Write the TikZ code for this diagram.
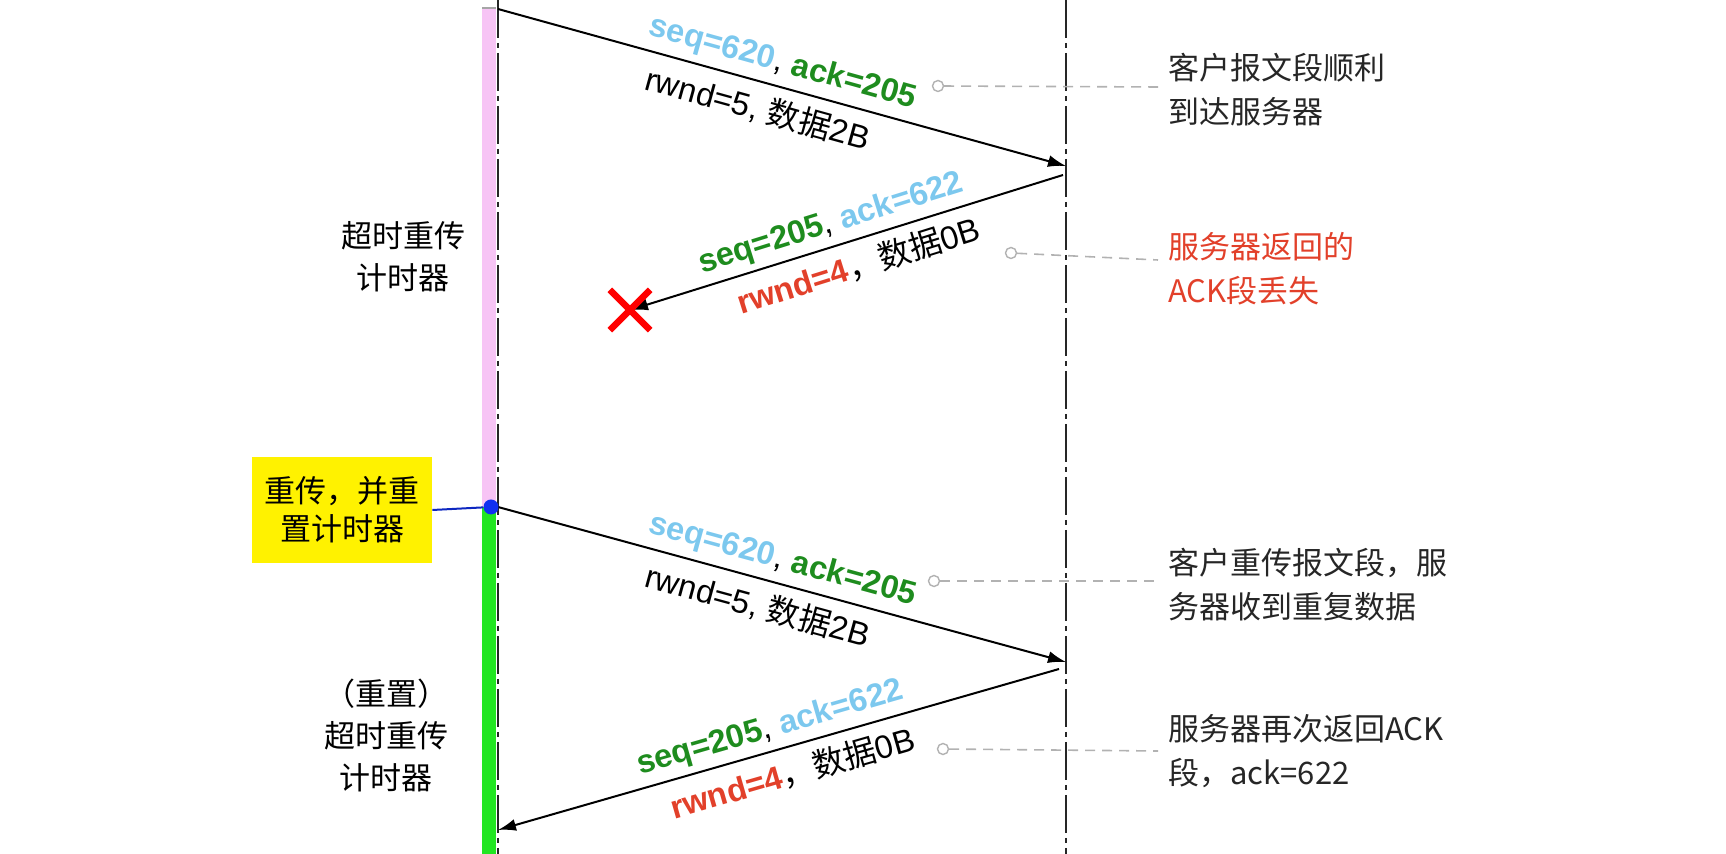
\documentclass[tikz,border=0pt]{standalone}
\usepackage{fontspec}
\setmainfont{Liberation Sans}
\newfontfamily\zh{Noto Sans CJK SC}
\usetikzlibrary{arrows.meta}
\usetikzlibrary{shapes.misc}

\definecolor{seqblue}{HTML}{7CC8EE}
\definecolor{ackgreen}{HTML}{1E8C1E}
\definecolor{lossred}{HTML}{E2402A}
\definecolor{timerpink}{HTML}{F7C4F5}
\definecolor{timergreen}{HTML}{22E622}
\definecolor{dotblue}{HTML}{1030F0}

\tikzset{
    lifeline/.style={line width=1pt, black!85, dash pattern=on 19pt off 2.5pt on 2.5pt off 2.5pt},
    msg/.style={-{Latex[length=9pt,width=6pt]}, line width=1pt},
    lbl/.style={font=\fontsize{16.3}{20}\selectfont, inner sep=0pt, sloped},
    note/.style={font=\zh\fontsize{15.5}{22}\selectfont, align=left, anchor=west, text=black!85, inner sep=5pt},
    timerlbl/.style={font=\zh\fontsize{15.5}{21}\selectfont, align=center},
    leader/.style={gray!60, line width=0.8pt, dash pattern=on 5pt off 3.5pt},
    pin/.style={circle, draw=gray!60, fill=white, line width=0.7pt, inner sep=0pt, minimum size=5.5pt},
    lossmark/.style={cross out, draw=red, line width=3.2pt, minimum size=17pt, inner sep=0pt}
}

\begin{document}
\begin{tikzpicture}[x=0.5pt,y=-0.5pt]
\useasboundingbox (0,0) rectangle (1726,854);

\fill[timerpink] (482,8) rectangle (496,507);
\draw[gray!70, line width=1pt] (482,8) -- (496,8);
\fill[timergreen] (482,507) rectangle (496,854);

\coordinate (ctop) at (498,0);
\coordinate (cbot) at (498,854);
\coordinate (stop) at (1066,0);
\coordinate (sbot) at (1066,854);
\draw[lifeline] (ctop) -- (cbot);
\draw[lifeline] (stop) -- (sbot);

\coordinate (c1) at (498,9);
\coordinate (s1) at (1066,166);
\coordinate (s2) at (1063,175);
\coordinate (c3) at (498,507);
\coordinate (s3) at (1066,662);
\coordinate (s4) at (1059,669);
\coordinate (c4) at (498,830);
\coordinate (lost) at (630,310);

\draw[msg] (c1) -- node[lbl, pos=.49, above=3.5pt] {\textcolor{seqblue}{\bfseries seq=620}, \textcolor{ackgreen}{\bfseries ack=205}}
    node[lbl, pos=.47, below=5pt] {rwnd=5, {\zh 数据}2B} (s1);
\draw[msg] (s2) -- node[lbl, pos=.52, above=3pt] {\textcolor{ackgreen}{\bfseries seq=205}, \textcolor{seqblue}{\bfseries ack=622}}
    node[lbl, pos=.49, below=4.5pt] {\textcolor{lossred}{\bfseries rwnd=4}{\zh ，数据}0B} (lost);
\node[lossmark] (lostmark) at (lost) {};
\draw[msg] (c3) -- node[lbl, pos=.49, above=3.5pt] {\textcolor{seqblue}{\bfseries seq=620}, \textcolor{ackgreen}{\bfseries ack=205}}
    node[lbl, pos=.47, below=5pt] {rwnd=5, {\zh 数据}2B} (s3);
\draw[msg] (s4) -- node[lbl, pos=.504, above=3pt] {\textcolor{ackgreen}{\bfseries seq=205}, \textcolor{seqblue}{\bfseries ack=622}}
    node[lbl, pos=.488, below=5pt] {\textcolor{lossred}{\bfseries rwnd=4}{\zh ，数据}0B} (c4);

\node[timerlbl] (timer1) at (403,257) {超时重传\\计时器};
\node[timerlbl] (timer2) at (386,735) {（重置）\\超时重传\\计时器};

\node[fill=yellow, minimum width=90pt, minimum height=53pt, font=\zh\fontsize{15.5}{19}\selectfont, align=center] (resetbox) at (342,510) {重传，并重\\置计时器};
\node[circle, fill=dotblue, inner sep=0pt, minimum size=7.5pt] (retx) at (491,507) {};
\draw[dotblue!80!black, line width=1pt] (resetbox.east) -- (retx);

\node[note] (note1) at (1158,90) {客户报文段顺利\\到达服务器};
\node[note, text=lossred] (note2) at (1158,269) {服务器返回的\\ACK段丢失};
\node[note] (note3) at (1158,585) {客户重传报文段，服\\务器收到重复数据};
\node[note] (note4) at (1158,751) {服务器再次返回ACK\\段，ack=622};

\node[pin] (pin1) at (938,86) {};
\node[pin] (pin2) at (1011,253) {};
\node[pin] (pin3) at (934,581) {};
\node[pin] (pin4) at (943,749) {};
\draw[leader] (pin1) -- ([yshift=1.5pt]note1.west);
\draw[leader] (pin2) -- ([yshift=4.5pt]note2.west);
\draw[leader] (pin3) -- ([yshift=2pt]note3.west);
\draw[leader] (pin4) -- (note4.west);
\end{tikzpicture}
\end{document}
